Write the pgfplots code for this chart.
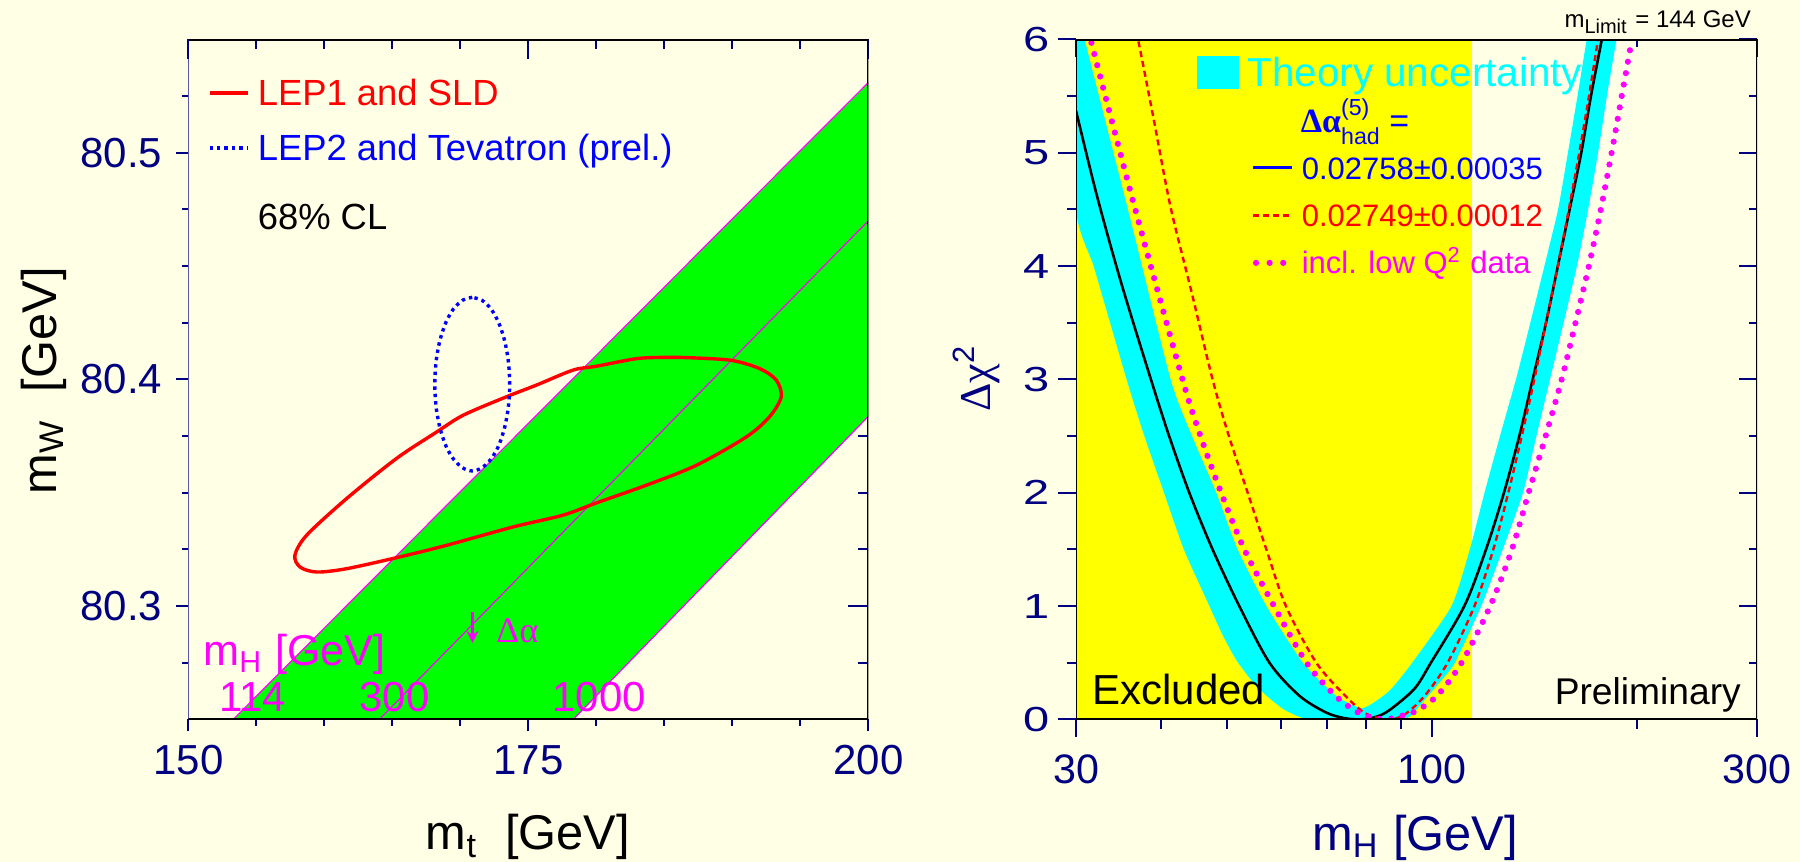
\documentclass[border=0pt]{standalone}
\usepackage{pgfplots}
\pgfplotsset{compat=1.18}
\usepackage{graphicx}
\usepackage{fontspec}
\setmainfont{Liberation Sans}
\newfontfamily\serifgr{Liberation Serif}
\usetikzlibrary{arrows.meta}
\definecolor{bg}{RGB}{255,255,230}
\definecolor{navy}{RGB}{0,0,128}
\definecolor{bandgreen}{RGB}{0,255,0}
\definecolor{cyanx}{RGB}{0,255,255}
\definecolor{magx}{RGB}{255,0,255}
\definecolor{yelx}{RGB}{255,255,0}
\definecolor{redx}{RGB}{255,0,0}
\definecolor{bluex}{RGB}{0,0,255}
\newcommand{\fs}[1]{\fontsize{#1}{#1}\selectfont}
\newcommand{\sy}[1]{\scalebox{1.35}[1]{#1}}
\begin{document}
\begin{tikzpicture}
\path[use as bounding box] (0pt,0pt) rectangle (450pt,215.5pt);
\fill[bg] (0pt,0pt) rectangle (450pt,215.5pt);

% ---------------- LEFT PANEL: top/right inward ticks (drawn first) ----------------
\begin{axis}[at={(47.1pt,35.65pt)}, anchor=south west, scale only axis,
  width=170pt, height=170pt,
  xmin=150, xmax=200, ymin=80.25, ymax=80.55,
  xtick={150,175,200}, ytick={80.3,80.4,80.5},
  minor xtick={155,160,165,170,180,185,190,195},
  minor ytick={80.275,80.325,80.35,80.375,80.425,80.45,80.475,80.525},
  xtick pos=right, ytick pos=right, tick align=inside,
  major tick length=5pt, minor tick length=2.5pt,
  tick style={navy, line width=0.5pt},
  xticklabels={}, yticklabels={},
  axis line style={draw=none}]
\end{axis}

% ---------------- LEFT PANEL: main ----------------
\begin{axis}[at={(47.1pt,35.65pt)}, anchor=south west, scale only axis,
  width=170pt, height=170pt,
  xmin=150, xmax=200, ymin=80.25, ymax=80.55,
  xtick={150,175,200}, xticklabels={150,175,200},
  ytick={80.3,80.4,80.5}, yticklabels={80.3,80.4,80.5},
  minor xtick={155,160,165,170,180,185,190,195},
  minor ytick={80.275,80.325,80.35,80.375,80.425,80.45,80.475,80.525},
  xtick pos=left, ytick pos=left, tick align=outside,
  major tick length=3pt, minor tick length=1.6pt,
  tick style={navy, line width=0.5pt},
  tick label style={font=\fs{10.5}, text=navy},
  axis line style={draw=none}]
% green band
\addplot[fill=bandgreen, draw=none] coordinates {(153.3,80.25) (200,80.531) (200,80.3837) (178.3,80.25)};
\addplot[magx, line width=0.3pt] coordinates {(153.3,80.25) (200,80.531)};
\addplot[magx, line width=0.3pt] coordinates {(164.05,80.25) (200,80.470)};
\addplot[magx, line width=0.3pt] coordinates {(178.3,80.25) (200,80.3837)};
% LEP1 and SLD contour
\addplot[redx, line width=0.85pt, smooth, tension=0.5] coordinates {
(186.12,80.4097) (183.18,80.4093) (180.0,80.4058) (178.29,80.4041) (175.6,80.3975)
(173.38,80.3923) (170.21,80.3842) (168.26,80.3768) (165.3,80.3651) (161.63,80.3474)
(158.69,80.3312) (157.83,80.3224) (158.21,80.3172) (159.44,80.3150) (161.65,80.3165)
(165.56,80.3217) (168.99,80.3268) (173.88,80.3349) (177.55,80.3401) (180.0,80.3455)
(183.67,80.3533) (187.35,80.3621) (191.02,80.3746) (192.73,80.3835) (193.59,80.3923)
(193.22,80.3997) (191.99,80.4048) (189.79,80.4085) (186.12,80.4097)};
% LEP2 and Tevatron ellipse
\addplot[bluex, line width=0.85pt, dash pattern=on 0.85pt off 1pt, smooth] coordinates {
(170.870,80.4362) (170.158,80.4349) (169.493,80.4311) (168.923,80.4250) (168.486,80.4170)
(168.211,80.4078) (168.117,80.3979) (168.211,80.3880) (168.486,80.3788) (168.923,80.3708)
(169.493,80.3648) (170.158,80.3610) (170.870,80.3596) (171.583,80.3610) (172.247,80.3648)
(172.817,80.3708) (173.254,80.3788) (173.529,80.3880) (173.623,80.3979) (173.529,80.4078)
(173.254,80.4170) (172.817,80.4250) (172.247,80.4311) (171.583,80.4349) (170.870,80.4362)};
% legend samples and arrow
\draw[redx, line width=0.85pt] (axis cs:151.56,80.5263) -- (axis cs:154.38,80.5263);
\draw[bluex, line width=0.85pt, dash pattern=on 0.85pt off 1pt] (axis cs:151.56,80.5020) -- (axis cs:154.38,80.5020);
\draw[magx, line width=0.6pt, -{Stealth[length=3pt,width=3pt]}] (axis cs:170.89,80.2974) -- (axis cs:170.89,80.2837);
% frame
\draw[black, line width=0.8pt] (rel axis cs:0,0) -- (rel axis cs:1,0) -- (rel axis cs:1,1) -- (rel axis cs:0,1);
\draw[navy, line width=0.5pt] (rel axis cs:0,0) -- (rel axis cs:0,1);
\end{axis}

% ---------------- RIGHT PANEL: top/right inward ticks ----------------
\begin{axis}[at={(269pt,35.65pt)}, anchor=south west, scale only axis,
  width=170.25pt, height=170pt,
  xmode=log, xmin=30, xmax=300, ymin=0, ymax=6,
  xtick={30,100,300}, minor x tick num=0, minor xtick={40,50,60,70,80,90,200},
  ytick={0,1,2,3,4,5,6}, minor ytick={0.5,1.5,2.5,3.5,4.5,5.5},
  xtick pos=right, ytick pos=right, tick align=inside,
  major tick length=4.5pt, minor tick length=2pt,
  tick style={navy, line width=0.5pt},
  xticklabels={}, yticklabels={},
  axis line style={draw=none}]
\end{axis}

% ---------------- RIGHT PANEL: main ----------------
\begin{axis}[at={(269pt,35.65pt)}, anchor=south west, scale only axis,
  width=170.25pt, height=170pt,
  xmode=log, xmin=30, xmax=300, ymin=0, ymax=6,
  xtick={30,100,300}, xticklabels={30,100,300},
  minor x tick num=0, minor xtick={40,50,60,70,80,90,200},
  ytick={0,1,2,3,4,5,6},
  yticklabels={\sy{0},\sy{1},\sy{2},\sy{3},\sy{4},\sy{5},\sy{6}},
  minor ytick={0.5,1.5,2.5,3.5,4.5,5.5},
  xtick pos=left, ytick pos=left, tick align=outside,
  major tick length=4.4pt, minor tick length=2.3pt,
  tick style={navy, line width=0.5pt},
  xticklabel style={font=\fs{10.3}, text=navy, yshift=-1pt},
  yticklabel style={font=\fs{8.7}, text=navy, xshift=1.2pt},
  axis line style={draw=none}]
% excluded region
\addplot[fill=yelx, draw=none] coordinates {(30,0) (114.5,0) (114.5,6) (30,6)};
% theory uncertainty band
\addplot[fill=cyanx, draw=none, smooth, tension=0.35] coordinates {
(30,6.4) (30.89,6.0) (35.7,4.515) (41.3,3.0) (44.4,2.5) (48.2,2.0) (51.8,1.5) (57.1,1.0)
(64.6,0.5) (72.3,0.206) (79.1,0.1) (86.5,0.25) (93.5,0.5) (106.8,1.0) (113.6,1.5)
(119.4,2.0) (125.8,2.5) (132.8,3.0) (139.4,3.5) (146.2,4.0) (153.1,4.5) (158.3,5.0)
(163.5,5.5) (168.7,6.0) (172.5,6.3)
(191.4,6.3) (186.6,6.0) (180.6,5.5) (175.3,5.0) (169.5,4.5) (163.2,4.0) (156.0,3.5)
(149.0,3.0) (142.3,2.5) (136.0,2.0) (127.0,1.5) (118.1,1.0) (108.0,0.5) (103.0,0.34)
(98.6,0.206) (94.2,0.07) (90.2,0.0) (67.0,0.0) (64.0,0.02) (60.5,0.09) (57.1,0.21)
(54.2,0.35) (51.5,0.53) (49.2,0.75) (47.1,1.0) (43.2,1.5)
(40.4,2.0) (37.8,2.5) (35.6,3.0) (31.9,3.985) (30.0,4.515) (30,6.4)};
% 0.02758 +- 0.00035
\addplot[black, line width=0.65pt, smooth] coordinates {
(30,5.37) (32.2,4.62) (35.0,3.84) (38.65,3.0) (41.1,2.5) (44.0,2.0) (47.6,1.5)
(52.1,1.0) (57.7,0.5) (63.8,0.21) (69.9,0.06) (74.5,0.01) (78.5,0.0) (82.5,0.02)
(86.5,0.08) (94.2,0.27) (99.6,0.5) (111.5,1.0) (120.0,1.5) (127.5,2.0) (134.3,2.5)
(140.5,3.0) (147.0,3.5) (153.0,4.0) (159.2,4.5) (165.6,5.0) (171.1,5.5) (177.5,6.0)
(183.0,6.45)};
% 0.02749 +- 0.00012
\addplot[redx, line width=0.6pt, dash pattern=on 1.5pt off 1pt, smooth] coordinates {
(35.5,6.5) (37.0,6.0) (39.0,5.3) (41.3,4.52) (44.3,3.78) (47.6,3.0) (50.3,2.5) (53.6,2.0)
(57.1,1.5) (61.0,1.0) (67.6,0.5) (74.8,0.2) (80.0,0.05) (86.0,0.0) (91.0,0.04)
(97.6,0.21) (105.4,0.5) (115.4,1.0) (123.0,1.5) (129.4,2.0) (135.4,2.5) (141.3,3.0)
(147.0,3.5) (153.0,4.0) (158.8,4.5) (164.5,5.0) (170.0,5.5) (175.3,6.0) (180.0,6.4)};
% incl. low Q2 data
\addplot[magx, line width=1.55pt, line cap=round, dash pattern=on 0pt off 2.9pt, smooth] coordinates {
(31.6,5.97) (36.6,4.515) (43.0,3.0) (45.7,2.5) (49.0,2.0) (53.0,1.5) (58.6,1.0)
(65.4,0.5) (72.2,0.206) (78.5,0.05) (85.0,0.0) (90.0,0.03) (94.5,0.07) (101.6,0.206)
(110.5,0.5) (121.7,1.0) (131.0,1.5) (138.6,2.0) (146.8,2.5) (155.0,3.0) (162.4,3.5)
(169.9,4.0) (176.9,4.5) (183.5,5.0) (189.9,5.5) (196.5,6.0)};
% legend samples
\fill[cyanx] (axis cs:45.19,5.565) rectangle (axis cs:52.10,5.852);
\draw[bluex, line width=0.7pt] (axis cs:54.59,4.867) -- (axis cs:62.27,4.867);
\draw[redx, line width=0.6pt, dash pattern=on 1.5pt off 1pt] (axis cs:54.59,4.446) -- (axis cs:62.27,4.446);
\draw[magx, line width=1.55pt, line cap=round, dash pattern=on 0pt off 3.4pt] (axis cs:55.14,4.028) -- (axis cs:60.6,4.028);
% frame
\draw[black, line width=0.65pt] (rel axis cs:0,0) rectangle (rel axis cs:1,1);
\end{axis}

% ---------------- TEXT ----------------
% left panel
\node[anchor=base west, inner sep=0pt, redx, font=\fs{9.1}] at (64.25pt,189.1pt) {LEP1 and SLD};
\node[anchor=base west, inner sep=0pt, bluex, font=\fs{9.1}] at (64.25pt,175.25pt) {LEP2 and Tevatron (prel.)};
\node[anchor=base west, inner sep=0pt, black, font=\fs{9.1}] at (64.25pt,158.05pt) {68\% CL};
\node[anchor=base west, inner sep=0pt, magx, font=\fs{10.8}] at (50.65pt,49.0pt) {m\textsubscript{H} [GeV]};
\node[anchor=base west, inner sep=0pt, magx, font=\fs{10.5}] at (54.6pt,37.6pt) {114};
\node[anchor=base west, inner sep=0pt, magx, font=\fs{10.5}] at (89.7pt,37.6pt) {300};
\node[anchor=base west, inner sep=0pt, magx, font=\fs{10.5}] at (137.95pt,37.6pt) {1000};
\node[anchor=base west, inner sep=0pt, magx, font=\fs{9}\serifgr] at (123.9pt,54.8pt) {Δα};
\node[anchor=base, inner sep=0pt, black, font=\fs{12.2}] at (132pt,3pt) {m\textsubscript{t}\ \ [GeV]};
\node[anchor=base, inner sep=0pt, black, font=\fs{12.2}, rotate=90] at (14pt,120.3pt) {m\textsubscript{W}\ \ [GeV]};
% right panel
\node[anchor=base west, inner sep=0pt, cyanx, font=\fs{10.1}] at (311.7pt,193.8pt) {Theory uncertainty};
\node[anchor=base west, inner sep=0pt, bluex, font=\fs{8.5}] at (325pt,182.25pt)
  {{\serifgr\bfseries Δα}\rlap{\raisebox{4.3pt}{\fs{5.8}(5)}}\raisebox{-2.9pt}{\fs{5.8}had}\ =};
\node[anchor=base west, inner sep=0pt, bluex, font=\fs{7.75}] at (325.25pt,170.5pt) {0.02758±0.00035};
\node[anchor=base west, inner sep=0pt, redx, font=\fs{7.75}] at (325.25pt,158.8pt) {0.02749±0.00012};
\node[anchor=base west, inner sep=0pt, magx, font=\fs{7.75}] at (325.25pt,147pt) {incl. low Q\textsuperscript{2} data};
\node[anchor=base west, inner sep=0pt, black, font=\fs{10.5}] at (272.9pt,39.25pt) {Excluded};
\node[anchor=base east, inner sep=0pt, black, font=\fs{9.3}] at (435.4pt,39.25pt) {Preliminary};
\node[anchor=base east, inner sep=0pt, black, font=\fs{6}] at (437.9pt,208.6pt) {m\textsubscript{Limit} = 144 GeV};
\node[anchor=base, inner sep=0pt, navy, font=\fs{12.2}] at (353.75pt,2.8pt) {m\textsubscript{H} [GeV]};
\node[anchor=base, inner sep=0pt, navy, font=\fs{11}, rotate=90] at (247.5pt,121pt) {{\serifgr Δχ}\textsuperscript{2}};
\end{tikzpicture}
\end{document}
